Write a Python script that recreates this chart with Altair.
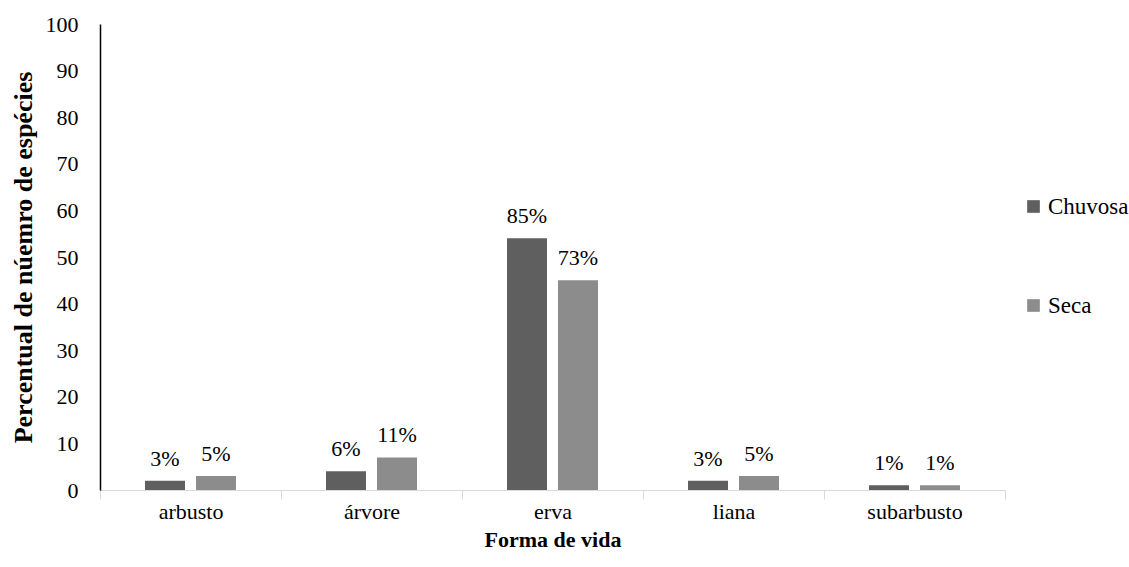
import altair as alt
import pandas as pd

categories = ["arbusto", "árvore", "erva", "liana", "subarbusto"]
chuvosa = [2, 4, 54, 2, 1]
seca = [3, 7, 45, 3, 1]
chuvosa_labels = ["3%", "6%", "85%", "3%", "1%"]
seca_labels = ["5%", "11%", "73%", "5%", "1%"]
series = ["Chuvosa", "Seca"]
colors = ["#5f5f5f", "#8c8c8c"]

rows = []
for i, c in enumerate(categories):
    rows.append({"forma": c, "estacao": "Chuvosa", "valor": chuvosa[i], "rotulo": chuvosa_labels[i]})
    rows.append({"forma": c, "estacao": "Seca", "valor": seca[i], "rotulo": seca_labels[i]})
df = pd.DataFrame(rows)

FONT = "'Liberation Serif', 'Times New Roman', serif"
FS = 22

x = alt.X("forma:N", sort=categories, title="Forma de vida",
          scale=alt.Scale(paddingInner=0, paddingOuter=0),
          axis=alt.Axis(labelAngle=0, labelFontSize=FS, labelColor="#000", labelPadding=2,
                        titleFontSize=FS, titleFontWeight="bold", titleColor="#000", titlePadding=7,
                        domainColor="#d9d9d9", tickColor="#d9d9d9", tickSize=9, tickBand="extent",
                        labelFont=FONT, titleFont=FONT))
xo = alt.XOffset("estacao:N", sort=series,
                 scale=alt.Scale(paddingInner=0.2157, paddingOuter=0.882))
y = alt.Y("valor:Q", title="Percentual de núemro de espécies",
          scale=alt.Scale(domain=[0, 100]),
          axis=alt.Axis(values=list(range(0, 101, 10)), grid=False, ticks=False,
                        domainColor="#000", domainWidth=1.5, labelFontSize=FS, labelColor="#000",
                        labelPadding=22, titleFontSize=26, titleFontWeight="bold", titleColor="#000",
                        titlePadding=9, labelFont=FONT, titleFont=FONT))
color = alt.Color("estacao:N", sort=series, title=None,
                  scale=alt.Scale(domain=series, range=colors),
                  legend=alt.Legend(orient="none", legendX=922, legendY=171, symbolType="square",
                                    symbolSize=160, symbolStrokeWidth=0, labelFontSize=23,
                                    labelFont=FONT, labelColor="#000", rowPadding=75,
                                    labelOffset=3, padding=0))

bars = alt.Chart(df).mark_bar(size=40).encode(x=x, xOffset=xo, y=y, color=color)
labels = alt.Chart(df).mark_text(baseline="bottom", dy=-10, fontSize=FS, font=FONT, color="#000").encode(
    x=x, xOffset=xo, y=y, text="rotulo:N")

chart = alt.layer(bars, labels).properties(
    width=905, height=466,
    autosize=alt.AutoSizeParams(type="none"),
    padding={"left": 100, "top": 24, "right": 124, "bottom": 77},
).configure(background="white", view=alt.ViewConfig(strokeWidth=0))

chart.save("out.html", embed_options={"renderer": "svg", "actions": False})
